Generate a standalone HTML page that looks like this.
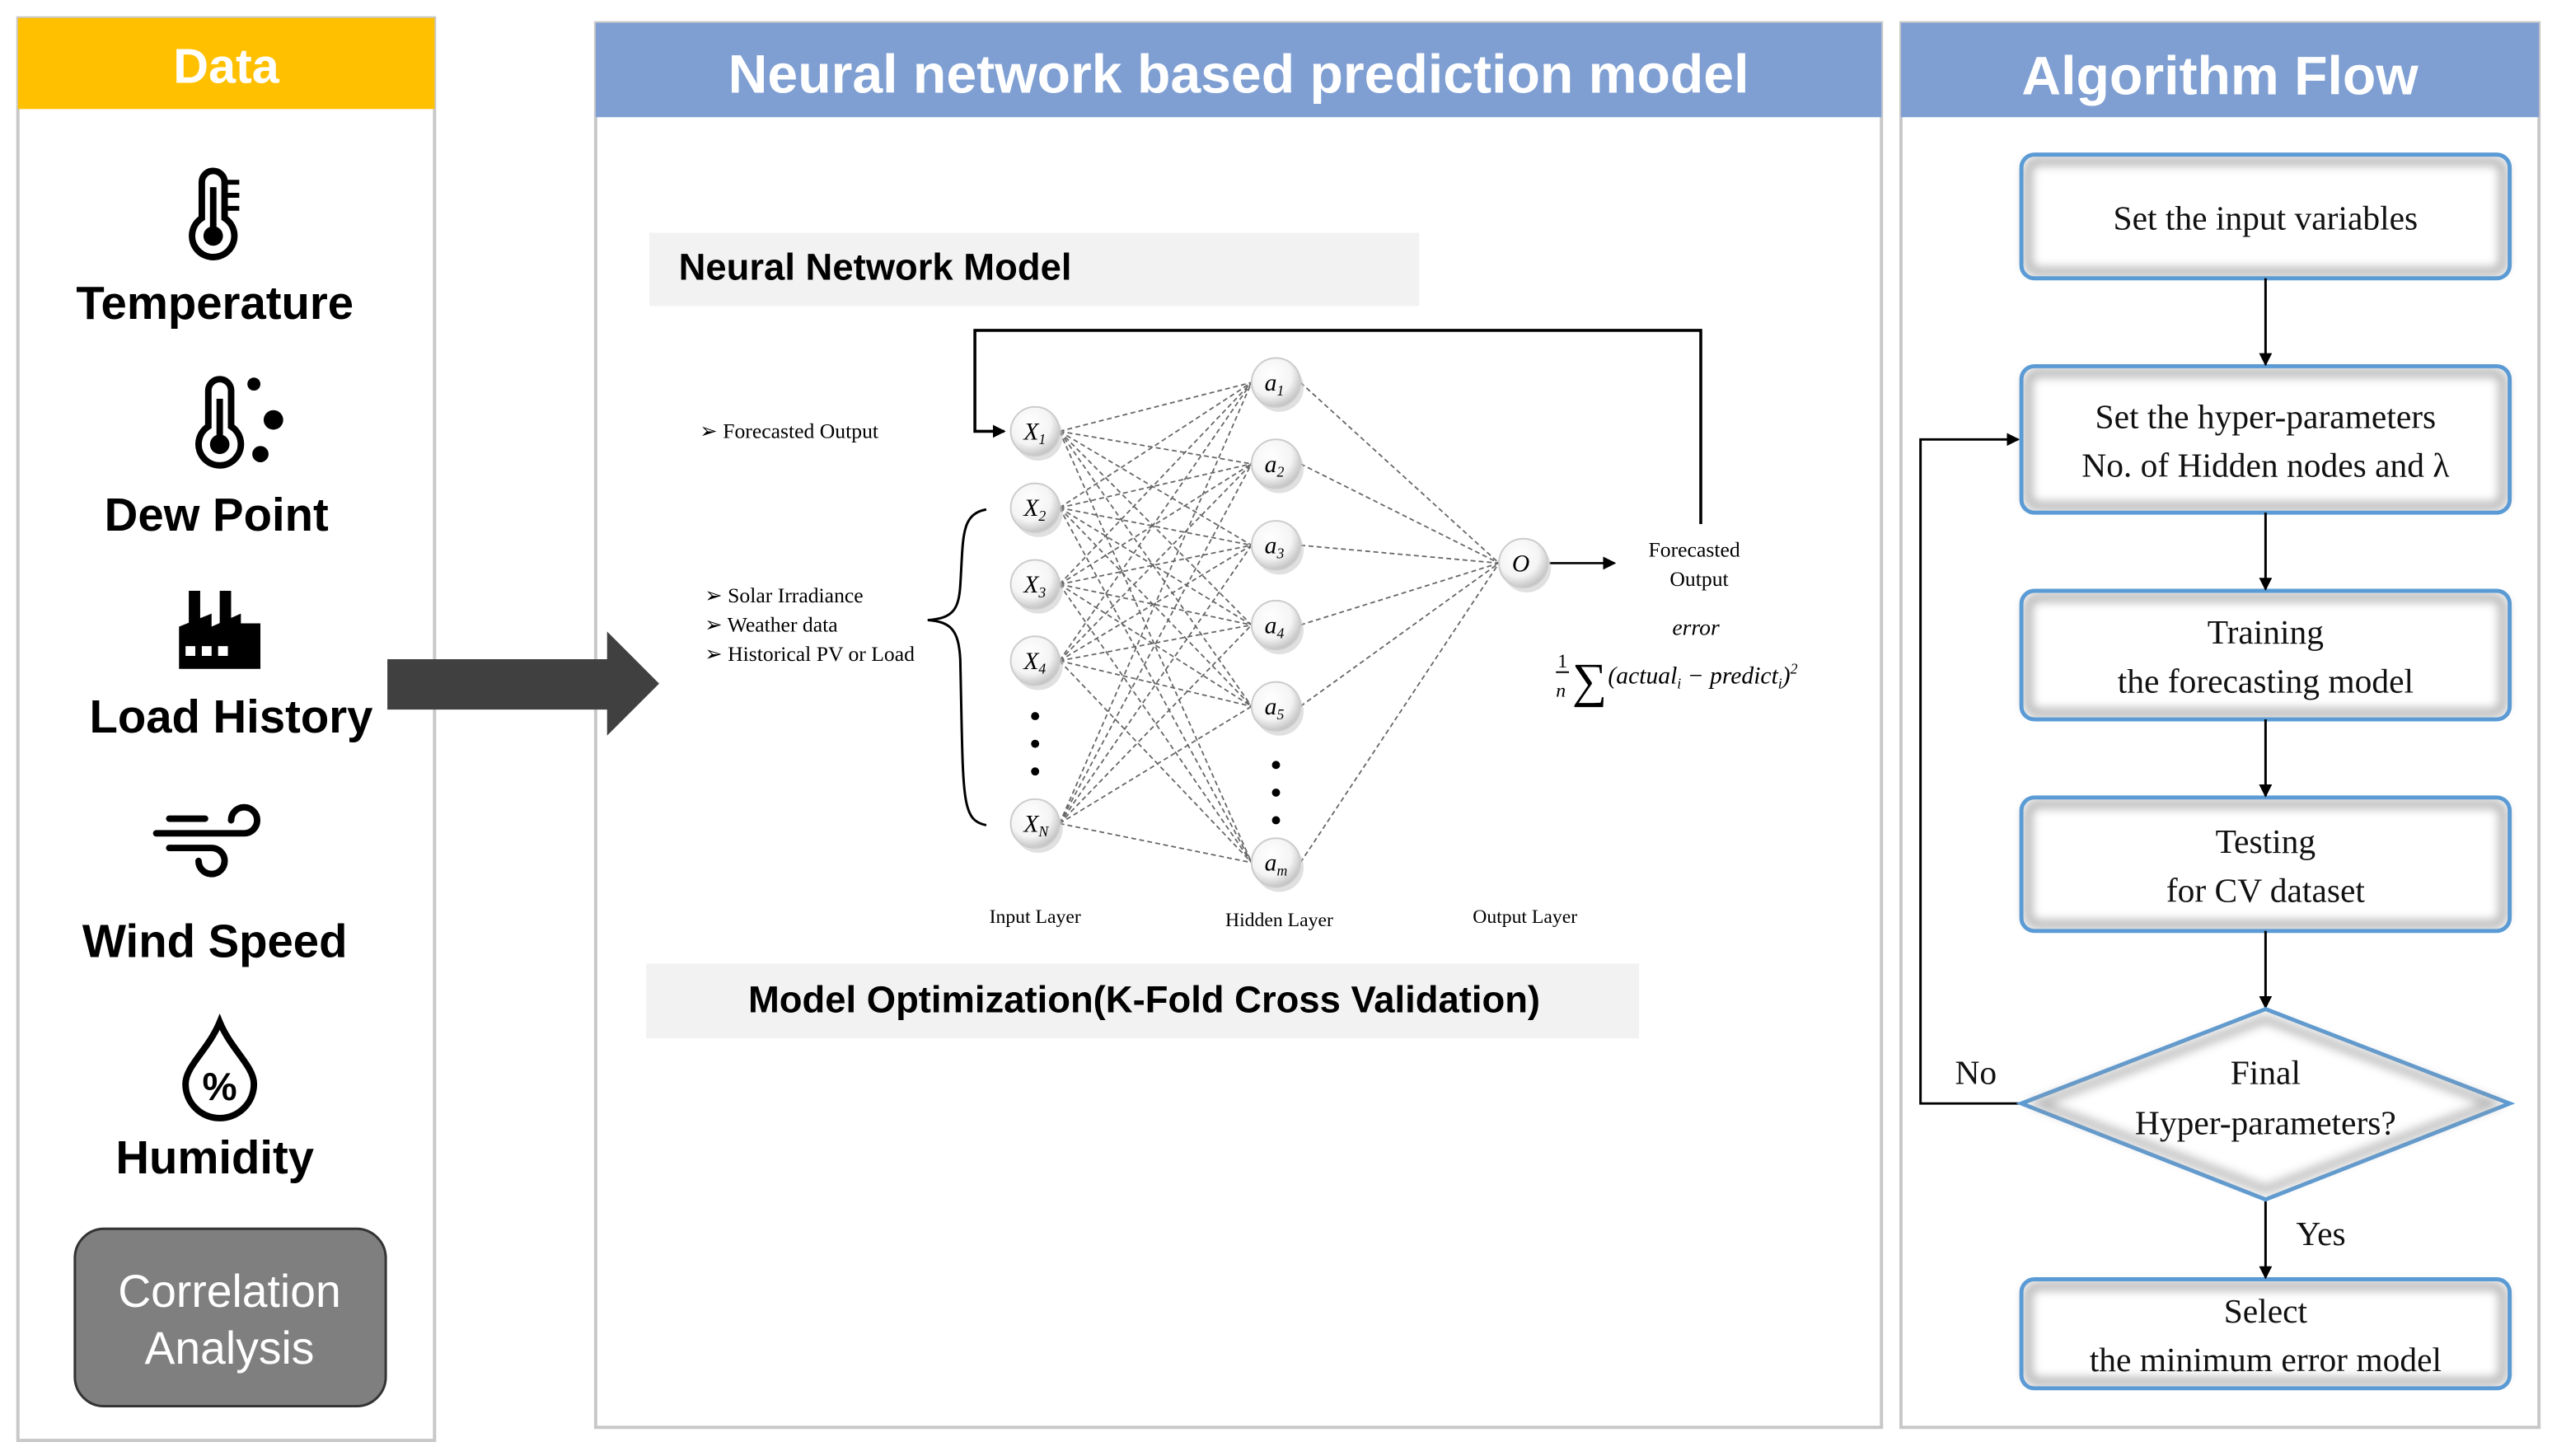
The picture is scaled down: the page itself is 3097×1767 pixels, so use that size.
<!DOCTYPE html>
<html><head><meta charset="utf-8"><style>
html,body{margin:0;padding:0;background:#fff;}
svg{display:block}
.hd{font-family:"Liberation Sans",sans-serif;font-weight:bold;fill:#fff}
.lb{font-family:"Liberation Sans",sans-serif;font-weight:bold;fill:#000;font-size:28.5px;text-anchor:middle}
.sr{font-family:"Liberation Serif",serif;fill:#000}
.fc{font-family:"Liberation Serif",serif;fill:#111;font-size:21px;text-anchor:middle}
</style></head><body>
<svg id="s" width="3097" height="1767" viewBox="0 0 1568 894.6" preserveAspectRatio="none" xmlns="http://www.w3.org/2000/svg">
<defs>
<marker id="ar" markerWidth="8" markerHeight="8" refX="7" refY="4" orient="auto" markerUnits="userSpaceOnUse"><path d="M0,0 L8,4 L0,8 z" fill="#000"/></marker>
<radialGradient id="nd" cx="40%" cy="35%" r="70%"><stop offset="0" stop-color="#fff"/><stop offset="0.6" stop-color="#f4f4f4"/><stop offset="1" stop-color="#bbb"/></radialGradient>
<filter id="ins" x="-5%" y="-5%" width="110%" height="110%"><feGaussianBlur stdDeviation="3"/></filter>
</defs>
<!-- Data panel -->
<rect x="11" y="11" width="256" height="874" fill="#fff" stroke="#c8c8c8" stroke-width="2"/>
<rect x="11" y="11" width="256" height="56" fill="#FFC000"/>
<text x="139" y="51" class="hd" font-size="30" text-anchor="middle">Data</text>
<g fill="none" stroke="#000" stroke-width="4">
<path d="M124,112 a7,7 0 0 1 14,0 v22 a13,13 0 1 1 -14,0 z"/>
<path d="M137,112 h10 M137,120 h10 M137,128 h10" stroke-width="3"/>
<path d="M128,240 a7,7 0 0 1 14,0 v22 a13,13 0 1 1 -14,0 z"/>
</g>
<circle cx="131" cy="145" r="6" fill="#000"/><rect x="129" y="115" width="4" height="30" fill="#000"/>
<circle cx="135" cy="273" r="6" fill="#000"/><rect x="133" y="245" width="4" height="28" fill="#000"/>
<circle cx="156" cy="236" r="4" fill="#000"/><circle cx="168" cy="258" r="6" fill="#000"/><circle cx="160" cy="279" r="5" fill="#000"/>
<text x="132" y="196" class="lb">Temperature</text>
<text x="133" y="326" class="lb">Dew Point</text>
<g fill="#000"><rect x="116" y="363" width="7" height="22"/><rect x="135" y="363" width="7" height="22"/>
<path d="M110,385 L130,377 L130,385 L148,377 L148,383 L160,383 L160,411 L110,411 z"/></g>
<g fill="#fff"><rect x="114" y="397" width="6" height="6"/><rect x="124" y="397" width="6" height="6"/><rect x="134" y="397" width="6" height="6"/></g>
<text x="142" y="450" class="lb">Load History</text>
<g fill="none" stroke="#000" stroke-width="4" stroke-linecap="round">
<path d="M104,503 h22 M96,512 h54 a8,8 0 1 0 -8,-8 M104,521 h26 a8,8 0 1 1 -8,8"/></g>
<text x="132" y="588" class="lb">Wind Speed</text>
<path d="M135,628 C128,645 114,655 114,666 a21,21 0 0 0 42,0 C156,655 142,645 135,628 z" fill="none" stroke="#000" stroke-width="4"/>
<text x="135" y="676" font-family="Liberation Sans" font-weight="bold" font-size="24" text-anchor="middle">%</text>
<text x="132" y="721" class="lb">Humidity</text>
<rect x="46" y="755" width="191" height="109" rx="18" fill="#7f7f7f" stroke="#333" stroke-width="1.5"/>
<text x="141" y="803" font-family="Liberation Sans" font-size="28" fill="#fff" text-anchor="middle">Correlation</text>
<text x="141" y="838" font-family="Liberation Sans" font-size="28" fill="#fff" text-anchor="middle">Analysis</text>
<!-- middle panel -->
<rect x="366" y="14" width="790" height="863" fill="#fff" stroke="#c8c8c8" stroke-width="2"/>
<rect x="366" y="14" width="790" height="58" fill="#7F9FD3"/>
<text x="761" y="57" class="hd" font-size="33.5" text-anchor="middle">Neural network based prediction model</text>
<!-- big arrow -->
<path d="M238,405 L373,405 L373,388 L405,420 L373,452 L373,436 L238,436 z" fill="#404040"/>
<rect x="399" y="143" width="473" height="45" fill="#f2f2f2"/>
<text x="417" y="172" font-family="Liberation Sans" font-weight="bold" font-size="23">Neural Network Model</text>
<rect x="397" y="592" width="610" height="46" fill="#f2f2f2"/>
<text x="703" y="622" font-family="Liberation Sans" font-weight="bold" font-size="23" text-anchor="middle">Model Optimization(K-Fold Cross Validation)</text>
<g id="lines" stroke="#666" stroke-width="0.9" stroke-dasharray="3,2" fill="none"></g>
<path d="M1045,322 V203 H599 V265 H617" fill="none" stroke="#000" stroke-width="1.8" marker-end="url(#ar)"/>
<line x1="952" y1="346" x2="992" y2="346" stroke="#000" stroke-width="1.3" marker-end="url(#ar)"/>
<g id="nodes"></g>
<g fill="#000"><circle cx="636" cy="440" r="2.5"/><circle cx="636" cy="457" r="2.5"/><circle cx="636" cy="474" r="2.5"/>
<circle cx="784" cy="470" r="2.5"/><circle cx="784" cy="487" r="2.5"/><circle cx="784" cy="504" r="2.5"/></g>
<path d="M606,313 C590,316 592,330 590,360 C589,375 585,380 570,381 C585,382 589,388 590,405 C592,490 590,504 606,507" fill="none" stroke="#000" stroke-width="1.5"/>
<g class="sr" font-size="13">
<text x="430" y="269">➢ Forecasted  Output</text>
<text x="433" y="370">➢ Solar  Irradiance</text>
<text x="433" y="388">➢ Weather data</text>
<text x="433" y="406">➢ Historical  PV or Load</text>
<text x="636" y="567" text-anchor="middle" font-size="12">Input Layer</text>
<text x="786" y="569" text-anchor="middle" font-size="12">Hidden Layer</text>
<text x="937" y="567" text-anchor="middle" font-size="12">Output Layer</text>
<text x="1041" y="342" text-anchor="middle">Forecasted</text>
<text x="1044" y="360" text-anchor="middle">Output</text>
<text x="1042" y="390" text-anchor="middle" font-style="italic" font-size="14">error</text>
<text x="957" y="410" font-size="12">1</text><line x1="956" y1="413" x2="964" y2="413" stroke="#000"/>
<text x="956" y="428" font-size="12" font-style="italic">n</text>
<text x="966" y="428" font-size="30">∑</text>
<text x="988" y="420" font-style="italic" font-size="15">(actual<tspan font-size="9" dy="3">i</tspan><tspan dy="-3"> − predict</tspan><tspan font-size="9" dy="3">i</tspan><tspan dy="-3">)</tspan><tspan font-size="9" dy="-6">2</tspan></text>
</g>
<!-- right panel -->
<rect x="1168" y="14" width="392" height="863" fill="#fff" stroke="#c8c8c8" stroke-width="2"/>
<rect x="1168" y="14" width="392" height="58" fill="#7F9FD3"/>
<text x="1364" y="58" class="hd" font-size="33.5" text-anchor="middle">Algorithm Flow</text>
<g id="fb"></g>
<g stroke="#000" stroke-width="1.5" fill="none" marker-end="url(#ar)">
<line x1="1392" y1="171" x2="1392" y2="224"/>
<line x1="1392" y1="315" x2="1392" y2="362"/>
<line x1="1392" y1="442" x2="1392" y2="489"/>
<line x1="1392" y1="572" x2="1392" y2="619"/>
<line x1="1392" y1="737" x2="1392" y2="785"/>
<path d="M1242,678 H1180 V270 H1240"/>
</g>
<path d="M1392,620 L1542,678 L1392,737 L1242,678 z" fill="#fff" stroke="#5B9BD5" stroke-width="2.5"/>
<path d="M1392,626 L1532,678 L1392,731 L1252,678 z" fill="none" stroke="#999" stroke-width="5" filter="url(#ins)" opacity="0.7"/>
<text x="1392" y="666" class="fc">Final</text>
<text x="1392" y="697" class="fc">Hyper-parameters?</text>
<text x="1214" y="666" class="fc">No</text>
<text x="1426" y="765" class="fc">Yes</text>
</svg>
<script>
var ns="http://www.w3.org/2000/svg";
function el(p,t,a){var e=document.createElementNS(ns,t);for(var k in a)e.setAttribute(k,a[k]);p.appendChild(e);return e;}
var L=document.getElementById('lines'),N=document.getElementById('nodes');
var inY=[265,312,359,406,506],hY=[235,285,335,384,434,530];
inY.forEach(function(a){hY.forEach(function(b){el(L,'line',{x1:651,y1:a,x2:769,y2:b});});});
hY.forEach(function(b){el(L,'line',{x1:799,y1:b,x2:921,y2:346});});
var inL=['1','2','3','4','N'],hL=['1','2','3','4','5','m'];
function node(x,y,m,s){el(N,'circle',{cx:x+2,cy:y+3,r:15,fill:'#ccc',opacity:0.6});el(N,'circle',{cx:x,cy:y,r:15,fill:'url(#nd)',stroke:'#ccc','stroke-width':1});
var t=el(N,'text',{x:x-7,y:y+5,'font-family':'Liberation Serif','font-style':'italic','font-size':15});t.appendChild(document.createTextNode(m));
if(s){var u=el(t,'tspan',{'font-size':9,dy:3});u.textContent=s;}}
inY.forEach(function(y,i){node(636,y,'X',inL[i]);});
hY.forEach(function(y,i){node(784,y,'a',hL[i]);});
node(936,346,'O','');
var F=document.getElementById('fb');
var bx=[[95,171,['Set the input variables']],[225,315,['Set the hyper-parameters','No. of Hidden nodes and λ']],[363,442,['Training','the forecasting  model']],[490,572,['Testing','for CV dataset']],[786,853,['Select','the minimum  error model']]];
bx.forEach(function(b){var y=b[0],h=b[1]-b[0];
el(F,'rect',{x:1242,y:y,width:300,height:h,rx:8,fill:'#fff'});
el(F,'rect',{x:1246,y:y+4,width:292,height:h-8,rx:6,fill:'none',stroke:'#999','stroke-width':5,filter:'url(#ins)',opacity:0.8});
el(F,'rect',{x:1242,y:y,width:300,height:h,rx:8,fill:'none',stroke:'#5B9BD5','stroke-width':2.5});
var c=y+h/2,n=b[2].length;
b[2].forEach(function(s,i){var t=el(F,'text',{x:1392,y:c+8+(i-(n-1)/2)*30,'class':'fc'});t.textContent=s;});});
</script>
</body></html>
